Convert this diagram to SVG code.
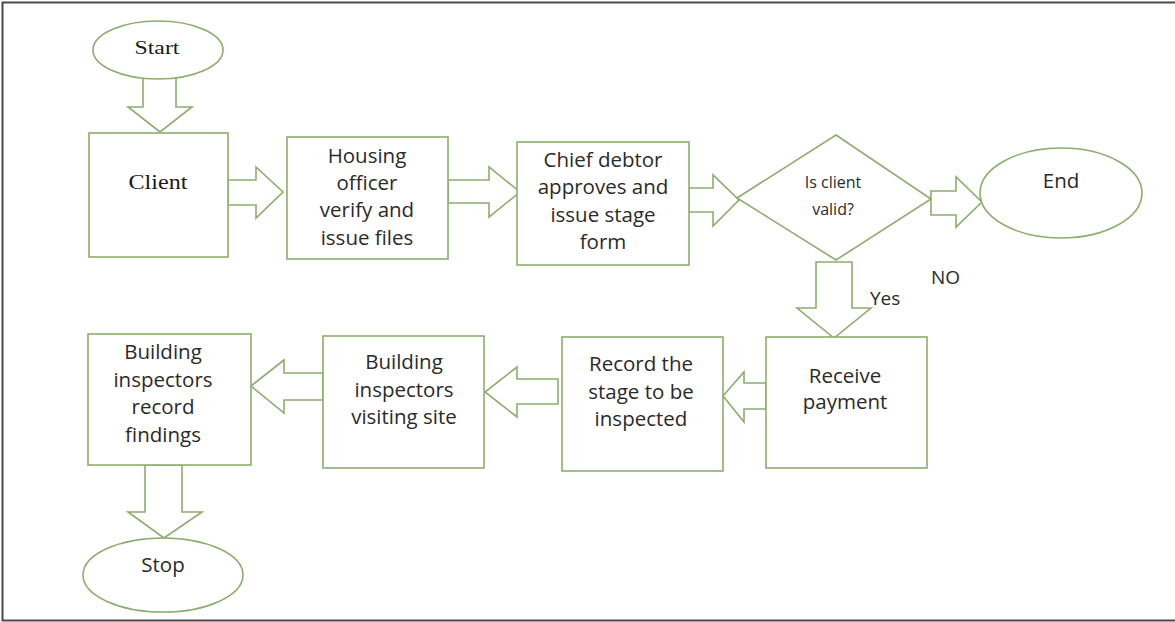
<svg xmlns="http://www.w3.org/2000/svg" width="1175" height="622" viewBox="0 0 1175 622">
<style>
.s{fill:#fff;stroke:#8cad6e;stroke-width:1.6}
.a{fill:#fff;stroke:#8cad6e;stroke-width:1.6;stroke-linejoin:miter}
.t{font-family:"Open Sans","Liberation Sans",sans-serif;font-size:20.5px;fill:#2a2a2a;text-anchor:middle}
.t.sm{font-size:16px}
.sf{font-family:"Liberation Serif","Times New Roman",serif;fill:#1a1a1a;text-anchor:middle}
.lb{font-family:"Open Sans","Liberation Sans",sans-serif;font-size:19px;fill:#2a2a2a}
</style>
<rect width="1175" height="622" fill="#fff"/>
<path d="M1176,2.5 H2.5 V620.5 H1176" fill="none" stroke="#4a4a4a" stroke-width="2"/>
<g id="connectors">
<polygon class="a" points="143,76 176,76 176,107 192,107 160,132 128,107 143,107"/>
<polygon class="a" points="228,180 256,180 256,167 283,192 256,218 256,205 228,205"/>
<polygon class="a" points="448,180 489,180 489,167 520,192 489,217 489,203 448,203"/>
<polygon class="a" points="689,188 713,188 713,175 739,200 713,226 713,212 689,212"/>
<polygon class="a" points="931,191 956,191 956,177 982,202 956,227 956,215 931,215"/>
<polygon class="a" points="816,262 852,262 852,308 871,308 834,338 797,308 816,308"/>
<polygon class="a" points="766,383 744,383 744,372 723,396 744,422 744,409 766,409"/>
<polygon class="a" points="558,379 517,379 517,367 485,392 517,417 517,404 558,404"/>
<polygon class="a" points="323,373 284,373 284,360 251,386 284,413 284,400 323,400"/>
<polygon class="a" points="145,465 182,465 182,512 202,512 164,538 128,512 145,512"/>
<text class="lb" x="931" y="284">NO</text>
<text class="lb" x="870" y="305">Yes</text>
</g>
<g id="start">
<ellipse class="s" cx="158" cy="50" rx="65" ry="29"/>
<text class="sf" x="157" y="54" font-size="19" textLength="45" lengthAdjust="spacingAndGlyphs">Start</text>
</g>
<g id="client">
<rect class="s" x="89" y="133" width="139" height="124"/>
<text class="sf" x="158" y="189" font-size="21" textLength="59" lengthAdjust="spacingAndGlyphs">Client</text>
</g>
<g id="housing">
<rect class="s" x="287" y="137" width="161" height="122"/>
<text class="t"><tspan x="367" y="163">Housing</tspan><tspan x="367" y="190">officer</tspan><tspan x="367" y="217">verify and</tspan><tspan x="367" y="245">issue files</tspan></text>
</g>
<g id="chief">
<rect class="s" x="517" y="142" width="172" height="123"/>
<text class="t"><tspan x="603" y="167">Chief debtor</tspan><tspan x="603" y="194">approves and</tspan><tspan x="603" y="222">issue stage</tspan><tspan x="603" y="249">form</tspan></text>
</g>
<g id="decision">
<polygon class="s" points="737,198 836,135 931,199 836,260"/>
<text class="t sm"><tspan x="833" y="188">Is client</tspan><tspan x="833" y="215">valid?</tspan></text>
</g>
<g id="end">
<ellipse class="s" cx="1061" cy="193" rx="81" ry="45"/>
<text class="t" x="1061" y="188">End</text>
</g>
<g id="receive">
<rect class="s" x="766" y="337" width="161" height="131"/>
<text class="t"><tspan x="845" y="383">Receive</tspan><tspan x="845" y="409">payment</tspan></text>
</g>
<g id="record">
<rect class="s" x="562" y="337" width="161" height="134"/>
<text class="t"><tspan x="641" y="371">Record the</tspan><tspan x="641" y="399">stage to be</tspan><tspan x="641" y="426">inspected</tspan></text>
</g>
<g id="visiting">
<rect class="s" x="323" y="336" width="161" height="132"/>
<text class="t"><tspan x="404" y="369">Building</tspan><tspan x="404" y="397">inspectors</tspan><tspan x="404" y="424">visiting site</tspan></text>
</g>
<g id="findings">
<rect class="s" x="88" y="334" width="163" height="131"/>
<text class="t"><tspan x="163" y="359">Building</tspan><tspan x="163" y="387">inspectors</tspan><tspan x="163" y="414">record</tspan><tspan x="163" y="442">findings</tspan></text>
</g>
<g id="stop">
<ellipse class="s" cx="163" cy="575" rx="80" ry="37"/>
<text class="t" x="163" y="572">Stop</text>
</g>
</svg>
